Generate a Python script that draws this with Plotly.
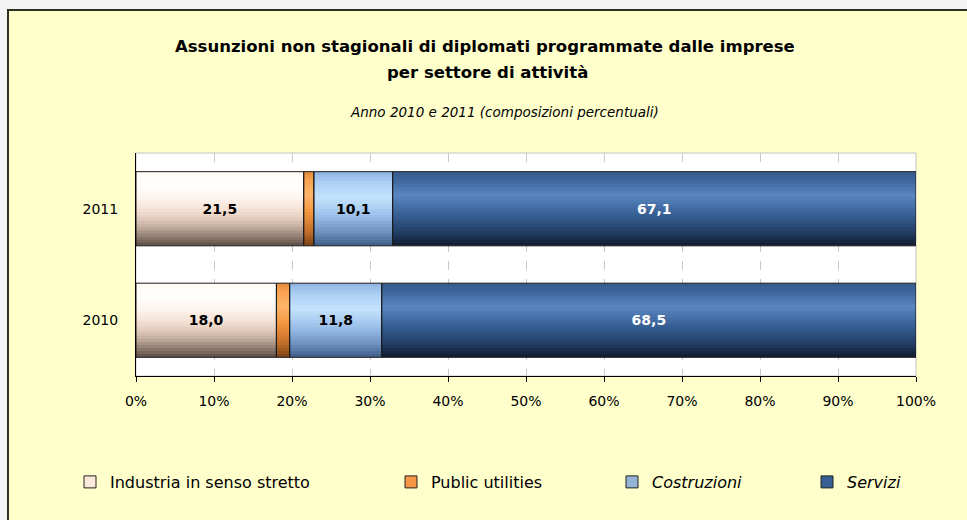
import numpy as np
import plotly.graph_objects as go

# ---------------- data ----------------
years = ["2010", "2011"]
industria = [18.0, 21.5]
public_utilities = [1.7, 1.3]
costruzioni = [11.8, 10.1]
servizi = [68.5, 67.1]
series_names = ["Industria in senso stretto", "Public utilities",
                "<i>Costruzioni</i>", "<i>Servizi</i>"]
x_ticks = list(range(0, 101, 10))
tick_labels = [f"{v}%" for v in x_ticks]

title_line1 = "<b>Assunzioni non stagionali di diplomati programmate dalle imprese</b>"
title_line2 = "<b>per settore di attività</b>"
subtitle = "<i>Anno 2010 e 2011 (composizioni percentuali)</i>"

# ---------------- style ----------------
FONT = "DejaVu Sans"
W = 0.665          # bar thickness (category units)
N = 24             # strips used to imitate the vertical gradient
L, R, T, B = 136, 51, 153, 144
PW, PH = 967 - L - R, 520 - T - B

# gradient stops, t=0 bottom, t=1 top
stops = [
    [(0.0, "#5a4b43"), (0.12, "#8f7c70"), (0.28, "#cdb6a6"), (0.45, "#f1ddcf"),
     (0.62, "#fcf1e9"), (0.8, "#ffffff"), (1.0, "#fffaf6")],
    [(0.0, "#7a4216"), (0.2, "#c4702a"), (0.45, "#f4963f"), (0.7, "#ffb56a"),
     (0.9, "#f7a04e"), (1.0, "#e48a3a")],
    [(0.0, "#3d5d86"), (0.18, "#6d90bf"), (0.4, "#9bbfea"), (0.65, "#c4e2fc"),
     (0.85, "#acd0f4"), (1.0, "#8fb3e0")],
    [(0.0, "#111c2e"), (0.2, "#23406a"), (0.45, "#3a6499"), (0.68, "#5986c0"),
     (0.88, "#3f679c"), (1.0, "#355a8c")],
]
legend_colors = ["#fde9da", "#f79646", "#95b3d7", "#376092"]
label_colors = ["black", "black", "black", "white"]


def interp(st, t):
    for (t0, c0), (t1, c1) in zip(st[:-1], st[1:]):
        if t0 <= t <= t1:
            f = (t - t0) / (t1 - t0) if t1 > t0 else 0
            a = [int(c0[i:i + 2], 16) for i in (1, 3, 5)]
            b = [int(c1[i:i + 2], 16) for i in (1, 3, 5)]
            r = [round(a[j] + (b[j] - a[j]) * f) for j in range(3)]
            return f"rgb({r[0]},{r[1]},{r[2]})"
    return st[-1][1]


def fmt(v):
    return f"{v:.1f}".replace(".", ",")


def px_x(x):
    return (x - L) / PW


def px_y(y):
    return (T + PH - y) / PH


series = [industria, public_utilities, costruzioni, servizi]
arrs = [np.array(s, dtype=float) for s in series]
bases = [np.zeros(len(years))]
for a in arrs[:-1]:
    bases.append(bases[-1] + a)

fig = go.Figure()
d = W / N
for k, vals in enumerate(arrs):
    for i in range(N):
        t = (i + 0.5) / N
        fig.add_trace(go.Bar(
            orientation="h", y=years, x=vals, base=bases[k],
            width=d * (1.25 if i < N - 1 else 1.0), offset=-W / 2 + i * d,
            marker=dict(color=interp(stops[k], t), line=dict(width=0)),
            showlegend=False, hoverinfo="skip"))

for k, vals in enumerate(arrs):
    labels = ["<b>" + fmt(v) + "</b>" for v in vals] if k != 1 else ["", ""]
    fig.add_trace(go.Bar(
        orientation="h", y=years, x=vals, base=bases[k],
        width=W, offset=-W / 2,
        marker=dict(color="rgba(0,0,0,0)", line=dict(color="#1a1a1a", width=1)),
        text=labels, textposition="inside", insidetextanchor="middle",
        textangle=0, constraintext="none",
        textfont=dict(family=FONT, size=14, color=label_colors[k]),
        showlegend=False, hoverinfo="skip"))

legend_ids = ["legend", "legend2", "legend3", "legend4"]
legend_sym_x = [90, 411, 632, 827]
for k in range(4):
    fig.add_trace(go.Bar(
        orientation="h", x=[None], y=[None], name=series_names[k],
        marker=dict(color=legend_colors[k], line=dict(color="#222222", width=1)),
        legend=legend_ids[k], showlegend=True, hoverinfo="skip"))

layout_legends = {}
for k in range(4):
    layout_legends[legend_ids[k]] = dict(
        x=px_x(legend_sym_x[k] - 20), xanchor="left",
        y=px_y(482), yanchor="middle", orientation="h",
        bgcolor="rgba(0,0,0,0)", borderwidth=0,
        font=dict(family=FONT, size=16, color="black"))

fig.update_layout(
    width=967, height=520,
    margin=dict(l=L, r=R, t=T, b=B, pad=0),
    paper_bgcolor="#f4f4f4", plot_bgcolor="white",
    barmode="overlay",
    font=dict(family=FONT, size=13, color="black"),
    xaxis=dict(range=[0, 100], tickvals=x_ticks, ticktext=tick_labels,
               showgrid=True, gridcolor="#c8c8c8", griddash="dash", gridwidth=1,
               showline=True, linecolor="black", linewidth=1,
               ticks="outside", ticklen=5, tickcolor="black",
               ticklabelstandoff=7,
               zeroline=False, fixedrange=True,
               tickfont=dict(family=FONT, size=14, color="black")),
    yaxis=dict(type="category", categoryorder="array", categoryarray=years,
               range=[-0.5, 1.5], showgrid=False, showline=True,
               linecolor="black", linewidth=1, ticks="", ticklabelstandoff=14,
               tickfont=dict(family=FONT, size=14, color="black")),
    shapes=[
        dict(type="rect", xref="paper", yref="paper", layer="below",
             x0=px_x(8), x1=px_x(1000), y0=px_y(560), y1=px_y(10),
             fillcolor="#ffffcc", line=dict(color="#2f2f22", width=2)),
        dict(type="rect", xref="paper", yref="paper", layer="below",
             x0=0, x1=1, y0=0, y1=1,
             fillcolor="white", line=dict(color="#c4c4c4", width=1)),
    ],
    annotations=[
        dict(text=title_line1, xref="paper", yref="paper", x=px_x(485), y=px_y(47),
             showarrow=False, xanchor="center", yanchor="middle",
             font=dict(family=FONT, size=16.5, color="black")),
        dict(text=title_line2, xref="paper", yref="paper", x=px_x(487), y=px_y(72),
             showarrow=False, xanchor="center", yanchor="middle",
             font=dict(family=FONT, size=16.5, color="black")),
        dict(text=subtitle, xref="paper", yref="paper", x=px_x(504), y=px_y(112),
             showarrow=False, xanchor="center", yanchor="middle",
             font=dict(family=FONT, size=13.5, color="black")),
    ],
    showlegend=True,
    **layout_legends,
)

fig.write_html("out.html",
               config={"displayModeBar": False},
               post_script="document.body.style.margin='0';"
                           "document.documentElement.style.overflow='hidden';")
